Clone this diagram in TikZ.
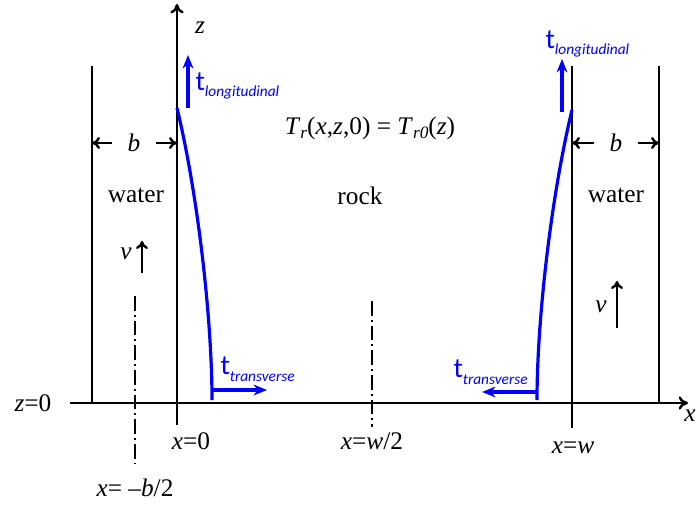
\documentclass[tikz,border=0pt]{standalone}
\usepackage{fontspec}
\setmainfont{Liberation Serif}
\newfontfamily\calfont{Carlito}
\usetikzlibrary{arrows.meta,positioning}

\newcommand{\tsub}[1]{{\calfont t\raisebox{-0.5ex}{\fontsize{11.5}{12}\selectfont\itshape #1}}}
\newcommand{\isub}[1]{\raisebox{-0.4ex}{\fontsize{13}{14}\selectfont\itshape #1}}

\begin{document}
\begin{tikzpicture}[x=0.75pt,y=-0.75pt,line width=1.8pt,
  lbl/.style={font=\fontsize{19}{22}\selectfont,inner sep=1pt},
  tlbl/.style={blue,font=\calfont\fontsize{21}{22}\selectfont,inner sep=1pt},
  axis/.style={-{To[length=7pt,width=10pt]}},
  dimarrow/.style={-{To[length=6pt,width=9pt]}},
  flux/.style={blue,line width=2.4pt,-{Stealth[length=10pt,width=8pt,inset=3pt]}},
  symline/.style={line width=1.8pt,dash pattern=on 11pt off 3pt on 1.5pt off 3pt}]
\useasboundingbox (0,0) rectangle (698,504);

% axes
\coordinate (o) at (177,403);
\coordinate (xl) at (70,403);
\coordinate (xr) at (688,403);
\coordinate (zbot) at (177,425);
\coordinate (ztop) at (177,4);
\draw[axis] (xl) -- (xr);
\draw[axis] (zbot) -- (ztop);
\node[lbl] (zlab) at (200,28) {\textit{z}};
\node[lbl] (xlab) at (690,416) {\textit{x}};
\node[lbl] (zzero) at (33,403) {\textit{z}=0};

% walls
\coordinate (wlt) at (92,66);
\coordinate (wlb) at (92,403);
\coordinate (wrt) at (659,66);
\coordinate (wrb) at (659,403);
\coordinate (rwt) at (572,66);
\coordinate (rwb) at (572,428);
\draw (wlt) -- (wlb);
\draw (wrt) -- (wrb);
\draw (rwt) -- (rwb);

% symmetry lines
\coordinate (sl1) at (135,296);
\coordinate (sl2) at (135,463);
\coordinate (sm1) at (372,301);
\coordinate (sm2) at (372,427);
\draw[symline] (sl1) -- (sl2);
\draw[symline] (sm1) -- (sm2);

% channel width b
\node[lbl,inner sep=11pt] (bL) at (134,143) {\textit{b}};
\node[lbl,inner sep=11pt] (bR) at (616,143) {\textit{b}};
\draw[dimarrow] (bL.west) -- (bL -| wlb);
\draw[dimarrow] (bL.east) -- (bL -| o);
\draw[dimarrow] (bR.west) -- (bR -| rwt);
\draw[dimarrow] (bR.east) -- (bR -| wrt);

% regions
\node[lbl] (waterL) at (136,195) {water};
\node[lbl] (waterR) at (616,195) {water};
\node[lbl] (rock) at (360,196) {rock};
\node[lbl] (init) at (370,128) {\textit{T}\isub{r}(\textit{x},\textit{z},0) = \textit{T}\isub{r0}(\textit{z})};

% flow velocity
\coordinate (vL1) at (142,273);
\coordinate (vL2) at (142,241);
\coordinate (vR1) at (617,328);
\coordinate (vR2) at (617,281);
\draw[dimarrow] (vL1) -- (vL2);
\draw[dimarrow] (vR1) -- (vR2);
\node[lbl] (vLlab) at (126,254) {\textit{v}};
\node[lbl] (vRlab) at (601,307) {\textit{v}};

% temperature fronts
\coordinate (fLt) at (177,108);
\coordinate (fLb) at (212,400);
\coordinate (fRt) at (572,110);
\coordinate (fRb) at (537,400);
\draw[blue,line width=2.4pt] (fLt) .. controls (198,195) and (212,320) .. (fLb);
\draw[blue,line width=2.4pt] (fRt) .. controls (551,197) and (537,320) .. (fRb);

% tractions
\coordinate (tL1) at (188,108);
\coordinate (tL2) at (188,55);
\coordinate (tR1) at (562,112);
\coordinate (tR2) at (562,59);
\coordinate (hL1) at (212,390);
\coordinate (hL2) at (267,390);
\coordinate (hR1) at (537,392);
\coordinate (hR2) at (482,392);
\draw[flux] (tL1) -- (tL2);
\draw[flux] (tR1) -- (tR2);
\draw[flux] (hL1) -- (hL2);
\draw[flux] (hR1) -- (hR2);
\node[tlbl,anchor=west] (tLlab) at (193,86) {\tsub{longitudinal}};
\node[tlbl,anchor=west] (tRlab) at (543,44) {\tsub{longitudinal}};
\node[tlbl,anchor=west] (hLlab) at (218,369) {\tsub{transverse}};
\node[tlbl,anchor=west] (hRlab) at (451,372) {\tsub{transverse}};

% positions
\node[lbl] (x0) at (191,441) {\textit{x}=0};
\node[lbl] (xw2) at (372,441) {\textit{x}=\textit{w}/2};
\node[lbl] (xw) at (573,448) {\textit{x}=\textit{w}};
\node[lbl] (xb2) at (135,488) {\textit{x}= \textendash\textit{b}/2};
\end{tikzpicture}
\end{document}
